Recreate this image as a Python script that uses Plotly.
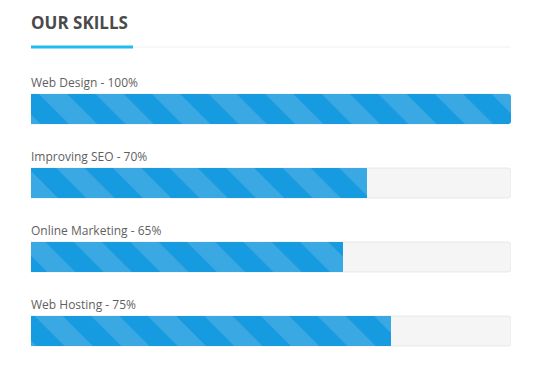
import plotly.graph_objects as go

skills = ["Web Design", "Improving SEO", "Online Marketing", "Web Hosting"]
values = [100, 70, 65, 75]
track = [100, 100, 100, 100]
title_text = "OUR SKILLS"

fig = go.Figure()
fig.add_trace(go.Bar(
    y=skills, x=track, orientation="h", width=0.405,
    marker=dict(color="#f5f5f5", line=dict(color="#e8e8e8", width=1), cornerradius=3),
    hoverinfo="skip", showlegend=False,
))
fig.add_trace(go.Bar(
    y=skills, x=values, orientation="h", width=0.405,
    marker=dict(color="#169ae0", line=dict(width=0), cornerradius=3,
                pattern=dict(shape="\\", fgcolor="#3aa8e2", bgcolor="#169ae0",
                             fgopacity=1, size=40, solidity=0.5, fillmode="replace")),
    hoverinfo="skip", showlegend=False,
))

for s, v in zip(skills, values):
    fig.add_annotation(x=0, xref="paper", y=s, yref="y", xanchor="left", yanchor="middle",
                       yshift=27, xshift=-2, text=f"{s} - {v}%", showarrow=False,
                       font=dict(family="Open Sans", size=12, color="#5f5f5f"))

fig.add_annotation(x=0, xref="paper", y=1, yref="paper", xanchor="left", yanchor="middle",
                   yshift=50, xshift=-2, text=f"<b>{title_text}</b>", showarrow=False,
                   font=dict(family="Open Sans", size=17, color="#4a4a4a"))

fig.add_shape(type="line", xref="paper", yref="paper", x0=0, x1=1,
              ysizemode="pixel", yanchor=1, y0=25, y1=25,
              line=dict(color="#f0f0f0", width=1))
fig.add_shape(type="line", xref="paper", yref="paper", x0=0, x1=0.2125,
              ysizemode="pixel", yanchor=1, y0=25, y1=25,
              line=dict(color="#1fbdef", width=3))

fig.update_layout(
    width=533, height=378, barmode="overlay",
    margin=dict(l=23, r=30, t=64, b=18),
    paper_bgcolor="white", plot_bgcolor="white",
    xaxis=dict(range=[0, 100], visible=False, fixedrange=True),
    yaxis=dict(range=[3.5, -0.5], visible=False, fixedrange=True,
               categoryorder="array", categoryarray=skills),
)
fig.write_html("out.html")
